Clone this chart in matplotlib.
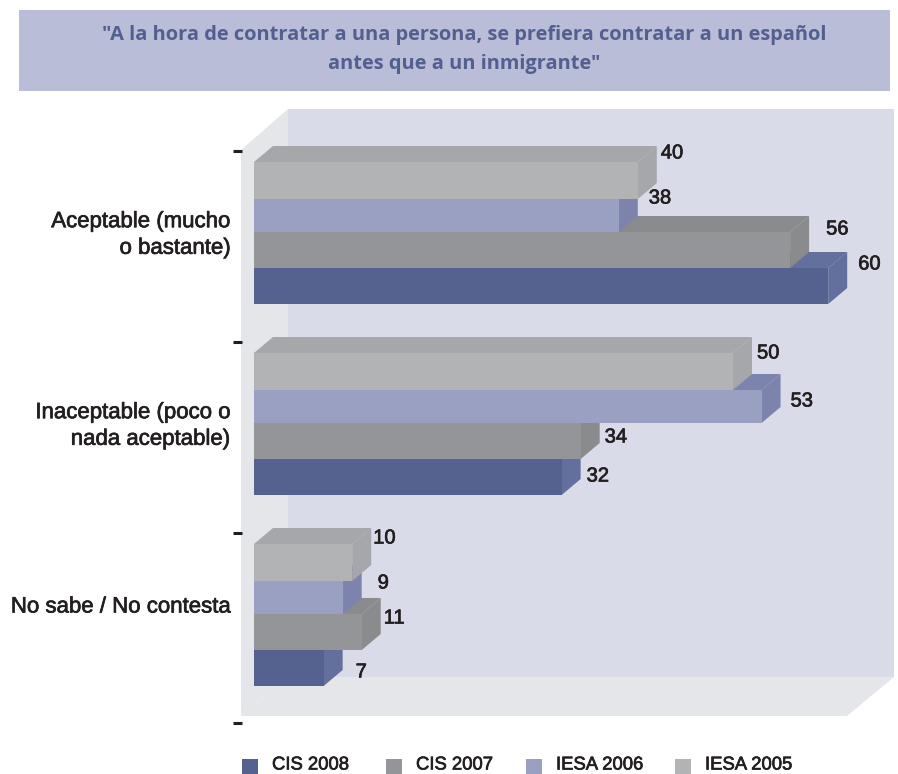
import matplotlib
matplotlib.use('Agg')
import matplotlib.pyplot as plt
import matplotlib.patheffects as pe
from matplotlib.patches import Polygon, Rectangle

# Data
groups = ['Aceptable (mucho\no bastante)', 'Inaceptable (poco o\nnada aceptable)', 'No sabe / No contesta']
series = ['CIS 2008', 'CIS 2007', 'IESA 2006', 'IESA 2005']
cis_2008 = [60, 32, 7]
cis_2007 = [56, 34, 11]
iesa_2006 = [38, 53, 9]
iesa_2005 = [40, 50, 10]
title = '"A la hora de contratar a una persona, se prefiera contratar a un español\nantes que a un inmigrante"'

# Styles, one per series (front, side/top)
front_colors = ['#556290', '#949598', '#9aa0c1', '#b2b3b5']
side_colors = ['#636f9c', '#8a8b8c', '#7c84ad', '#a6a7aa']
text_color = '#231f20'

# Layout in pixels
W, H = 898, 774
X_ZERO = 257
X_SCALE = 9.52
BAR_LEFT = 254
DEPTH_X = 19
DEPTH_Y = 16
GROUP_TOPS = [162, 353, 544]
BAR_TOPS = [106, 70, 37, 0]
BAR_HEIGHTS = [36, 36, 33, 37]
# label position for each series/group: gap right of the box, centre y
LABEL_GAPS = [[11, 6, 13], [17, 5, 3], [11, 10, 16], [4, 5, 2]]
LABEL_YS = [[264, 476, 672], [229, 437, 618], [198, 401, 583], [153, 353, 538]]

fig = plt.figure(figsize=(W / 100, H / 100), dpi=100)

# Backdrop axes in pixels
bg = fig.add_axes([0, 0, 1, 1])
bg.set_xlim(0, W)
bg.set_ylim(H, 0)
bg.axis('off')

bg.add_patch(Rectangle((19, 10), 871, 81, fc='#b9bdd8', ec='none'))
bg.text(464, 35, title.split('\n')[0], ha='center', va='center', fontsize=14.43,
        family='Open Sans', weight='bold', color='#525f8f')
bg.text(464, 64, title.split('\n')[1], ha='center', va='center', fontsize=14.43,
        family='Open Sans', weight='bold', color='#525f8f')

bg.add_patch(Rectangle((288, 109), 606, 568, fc='#d9dbe8', ec='none'))
bg.add_patch(Polygon([(241, 150), (288, 109), (288, 677), (241, 716)], fc='#e5e6e9', ec='none'))
bg.add_patch(Polygon([(241, 716), (288, 677), (894, 677), (847, 716)], fc='#e5e6e9', ec='none'))

for tick_y in [151, 342, 533, 723]:
    bg.plot([233, 242], [tick_y, tick_y], color=text_color, lw=2.2, solid_capstyle='butt')


def label_style():
    return dict(family='Liberation Sans', color=text_color,
                path_effects=[pe.withStroke(linewidth=0.5, foreground=text_color)])


for label, y in zip(groups, [235, 426, 607]):
    bg.text(231, y, label, ha='right', va='center', fontsize=16, linespacing=1.35, **label_style())

# Legend
for name, color, box_x in zip(series, front_colors, [242, 386, 526, 675]):
    bg.add_patch(Rectangle((box_x, 759), 16, 15, fc=color, ec='none'))
    bg.text(box_x + 30, 765, name, ha='left', va='center', fontsize=13.3, **label_style())

# Bars axes: x in chart values, y in pixels
ax = fig.add_axes([0, 0, 1, 1])
ax.set_xlim(-X_ZERO / X_SCALE, (W - X_ZERO) / X_SCALE)
ax.set_ylim(H, 0)
ax.axis('off')
ax.patch.set_alpha(0)

base = (BAR_LEFT - X_ZERO) / X_SCALE
dx = DEPTH_X / X_SCALE
values = [cis_2008, cis_2007, iesa_2006, iesa_2005]

# Drawn bottom bar first, the upper bars overlap the lower ones
for g, group_top in enumerate(GROUP_TOPS):
    for s, vals in enumerate(values):
        v = vals[g]
        top = group_top + BAR_TOPS[s]
        bottom = top + BAR_HEIGHTS[s]
        zo = 2 + g * 10 + s * 2
        ax.barh((top + bottom) / 2, v - base, height=BAR_HEIGHTS[s], left=base,
                color=front_colors[s], linewidth=0, zorder=zo + 1)
        ax.add_patch(Polygon([(base, top), (base + dx, top - DEPTH_Y), (v + dx, top - DEPTH_Y), (v, top)],
                             fc=side_colors[s], ec='none', zorder=zo))
        ax.add_patch(Polygon([(v, top), (v + dx, top - DEPTH_Y), (v + dx, bottom - DEPTH_Y), (v, bottom)],
                             fc=side_colors[s], ec='none', zorder=zo))
        ax.text(v + dx + LABEL_GAPS[s][g] / X_SCALE, LABEL_YS[s][g], str(v), ha='left', va='center',
                fontsize=14.5, zorder=100, **label_style())

fig.savefig('out.png', dpi=100, facecolor='white')
